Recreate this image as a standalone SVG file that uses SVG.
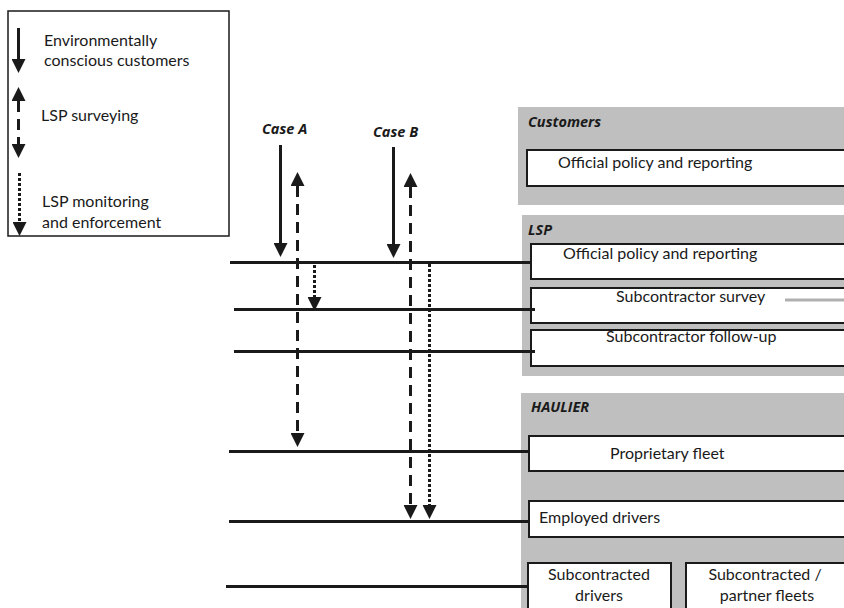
<svg xmlns="http://www.w3.org/2000/svg" width="844" height="608" viewBox="0 0 844 608">
  <style>
    .t { font-family: "Lato", "Open Sans", "Liberation Sans", sans-serif; font-size: 16px; fill: #1a1a1a; }
    .h { font-family: "Open Sans", "Liberation Sans", sans-serif; font-size: 14.5px; font-weight: bold; font-style: italic; fill: #1a1a1a; }
    .grp { fill: #bfbfbf; stroke: none; }
    .box { fill: #ffffff; stroke: #1a1a1a; stroke-width: 2; }
    .ln { stroke: #1a1a1a; stroke-width: 3; fill: none; }
    .solid { stroke: #1a1a1a; stroke-width: 3; fill: none; }
    .dash { stroke: #1a1a1a; stroke-width: 3; fill: none; stroke-dasharray: 11 7; }
    .dot { stroke: #1a1a1a; stroke-width: 3; fill: none; stroke-dasharray: 3 2; }
  </style>
  <defs>
    <marker id="ah" viewBox="0 0 14 14" refX="0" refY="7" markerWidth="14" markerHeight="14" markerUnits="userSpaceOnUse" orient="auto-start-reverse">
      <path d="M0,0 L14,7 L0,14 z" fill="#1a1a1a"/>
    </marker>
  </defs>
  <rect width="844" height="608" fill="#ffffff"/>

  <g id="legend">
    <rect x="8" y="11" width="221" height="225" fill="#ffffff" stroke="#1a1a1a" stroke-width="1.5"/>
    <line class="solid" x1="18.5" y1="28" x2="18.5" y2="59" marker-end="url(#ah)"/>
    <text class="t" x="44" y="46">Environmentally</text>
    <text class="t" x="44" y="66">conscious customers</text>
    <line class="dash" x1="18.5" y1="101" x2="18.5" y2="144" stroke-dasharray="13 10" marker-start="url(#ah)" marker-end="url(#ah)"/>
    <text class="t" x="41" y="121">LSP surveying</text>
    <line class="dot" x1="19.5" y1="173" x2="19.5" y2="222" marker-end="url(#ah)"/>
    <text class="t" x="42" y="207">LSP monitoring</text>
    <text class="t" x="42" y="228">and enforcement</text>
  </g>

  <g id="customers">
    <rect class="grp" x="518" y="107" width="330" height="98"/>
    <text class="h" x="528" y="127">Customers</text>
    <g id="customers-policy">
      <rect class="box" x="527" y="150" width="330" height="36"/>
      <text class="t" x="558" y="168">Official policy and reporting</text>
    </g>
  </g>

  <g id="lsp">
    <rect class="grp" x="522" y="215" width="330" height="161"/>
    <text class="h" x="528" y="235">LSP</text>
    <g id="lsp-policy">
      <rect class="box" x="531" y="244" width="330" height="35"/>
      <text class="t" x="563" y="259">Official policy and reporting</text>
    </g>
    <g id="lsp-survey">
      <rect class="box" x="531" y="288" width="330" height="35"/>
      <text class="t" x="616" y="302">Subcontractor survey</text>
      <line x1="785" y1="300" x2="844" y2="300" stroke="#b0b0b0" stroke-width="3"/>
    </g>
    <g id="lsp-followup">
      <rect class="box" x="531" y="330" width="330" height="36"/>
      <text class="t" x="606" y="342">Subcontractor follow-up</text>
    </g>
  </g>

  <g id="haulier">
    <rect class="grp" x="521" y="393" width="330" height="220"/>
    <text class="h" x="531" y="412">HAULIER</text>
    <g id="proprietary-fleet">
      <rect class="box" x="529" y="436" width="330" height="35"/>
      <text class="t" x="610" y="459">Proprietary fleet</text>
    </g>
    <g id="employed-drivers">
      <rect class="box" x="529" y="501" width="330" height="36"/>
      <text class="t" x="539" y="523">Employed drivers</text>
    </g>
    <g id="subcontracted-drivers">
      <rect class="box" x="528" y="563" width="143" height="50"/>
      <text class="t" x="599" y="580" text-anchor="middle">Subcontracted</text>
      <text class="t" x="599" y="601" text-anchor="middle">drivers</text>
    </g>
    <g id="partner-fleets">
      <rect class="box" x="686" y="563" width="170" height="50"/>
      <text class="t" x="765" y="580" text-anchor="middle">Subcontracted /</text>
      <text class="t" x="767" y="601" text-anchor="middle">partner fleets</text>
    </g>
  </g>

  <g id="case-labels">
    <text class="h" x="262" y="134">Case A</text>
    <text class="h" x="373" y="137">Case B</text>
  </g>

  <g id="connectors">
    <line class="ln" x1="230" y1="262.5" x2="532" y2="262.5"/>
    <line class="ln" x1="234" y1="309.5" x2="535" y2="309.5"/>
    <line class="ln" x1="234" y1="351.5" x2="535" y2="351.5"/>
    <line class="ln" x1="229" y1="451.5" x2="529" y2="451.5"/>
    <line class="ln" x1="229" y1="521.5" x2="529" y2="521.5"/>
    <line class="ln" x1="226" y1="586.5" x2="528" y2="586.5"/>

    <line class="solid" x1="280.5" y1="145" x2="280.5" y2="243" marker-end="url(#ah)"/>
    <line class="dash" x1="297.5" y1="186" x2="297.5" y2="433" marker-start="url(#ah)" marker-end="url(#ah)"/>
    <line class="dot" x1="314.5" y1="265" x2="314.5" y2="297" marker-end="url(#ah)"/>

    <line class="solid" x1="393.5" y1="147" x2="393.5" y2="244" marker-end="url(#ah)"/>
    <line class="dash" x1="410.5" y1="187" x2="410.5" y2="505" marker-start="url(#ah)" marker-end="url(#ah)"/>
    <line class="dot" x1="429.5" y1="264" x2="429.5" y2="505" marker-end="url(#ah)"/>
  </g>
</svg>
